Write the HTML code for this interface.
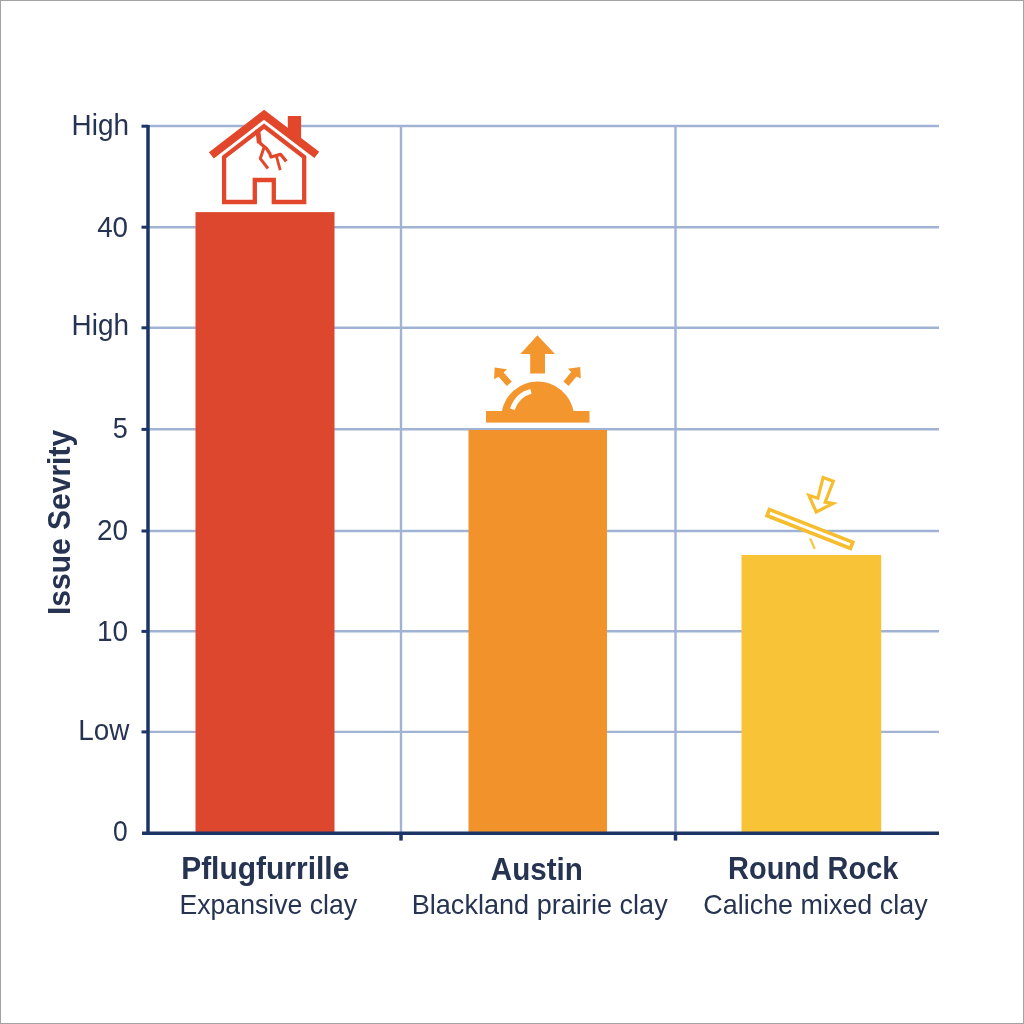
<!DOCTYPE html>
<html><head><meta charset="utf-8">
<style>
html,body{margin:0;padding:0;background:#fff;}
body{width:1024px;height:1024px;overflow:hidden;position:relative;}
svg{position:absolute;left:0;top:0;will-change:transform;}
text{font-family:"Liberation Sans",sans-serif;}
</style></head>
<body>
<svg width="1024" height="1024" viewBox="0 0 1024 1024">
  <rect x="0" y="0" width="1024" height="1024" fill="#fff"/>
  <rect x="0.5" y="0.5" width="1023" height="1023" fill="none" stroke="#a3a3a3" stroke-width="1"/>
  <!-- horizontal gridlines -->
  <g stroke="#a0b3d5" stroke-width="2.4" fill="none">
    <line x1="148" y1="126" x2="939" y2="126"/>
    <line x1="148" y1="227.2" x2="939" y2="227.2"/>
    <line x1="148" y1="327.7" x2="939" y2="327.7"/>
    <line x1="148" y1="429.3" x2="939" y2="429.3"/>
    <line x1="148" y1="531" x2="939" y2="531"/>
    <line x1="148" y1="631.3" x2="939" y2="631.3"/>
    <line x1="148" y1="731.9" x2="939" y2="731.9"/>
    <line x1="401" y1="126" x2="401" y2="833"/>
    <line x1="675.5" y1="126" x2="675.5" y2="833"/>
  </g>
  <!-- bars -->
  <rect x="195.5" y="212.1" width="139" height="621" fill="#dd472e"/>
  <rect x="468.5" y="430" width="138.5" height="403" fill="#f2922b"/>
  <rect x="741.5" y="555" width="139.7" height="278" fill="#f8c336"/>
  <!-- axes -->
  <g stroke="#1d3566" fill="none">
    <line x1="148" y1="125" x2="148" y2="835" stroke-width="3.5"/>
    <line x1="142" y1="833.2" x2="939" y2="833.2" stroke-width="3.5"/>
    <g stroke-width="3">
      <line x1="141.5" y1="126.2" x2="148" y2="126.2"/>
      <line x1="141.5" y1="227.2" x2="148" y2="227.2"/>
      <line x1="141.5" y1="327.8" x2="148" y2="327.8"/>
      <line x1="141.5" y1="429.4" x2="148" y2="429.4"/>
      <line x1="141.5" y1="531" x2="148" y2="531"/>
      <line x1="141.5" y1="631.4" x2="148" y2="631.4"/>
      <line x1="141.5" y1="731.9" x2="148" y2="731.9"/>
    </g>
    <line x1="401" y1="833" x2="401" y2="840.6" stroke-width="3.5"/>
    <line x1="675.5" y1="833" x2="675.5" y2="840.6" stroke-width="3.5"/>
  </g>
  <!-- y labels -->
  <g fill="#263452">
    <text transform="matrix(1.0330,0,0,1.0681,71.58,134.53)" font-size="27">High</text>
    <text transform="matrix(1.0281,0,0,1.0681,97.19,236.53)" font-size="27">40</text>
    <text transform="matrix(1.0330,0,0,1.0681,71.58,335.40)" font-size="27">High</text>
    <text transform="matrix(1.0000,0,0,1.0681,112.85,438.35)" font-size="27">5</text>
    <text transform="matrix(1.0342,0,0,1.0681,96.91,539.83)" font-size="27">20</text>
    <text transform="matrix(1.0370,0,0,1.0681,96.93,640.73)" font-size="27">10</text>
    <text transform="matrix(1.0328,0,0,1.0681,78.28,740.00)" font-size="27">Low</text>
    <text transform="matrix(0.9769,0,0,1.0681,113.02,841.38)" font-size="27">0</text>
  </g>
  <!-- y title -->
  <text transform="translate(70.44,615) rotate(-90) scale(1.0,1.05)" font-size="30" font-weight="bold" fill="#263452">Issue Sevrity</text>
  <!-- x labels -->
  <g fill="#263452">
    <text transform="matrix(1.0341,0,0,1.0802,181.13,879.05)" font-size="29" font-weight="bold">Pflugfurrille</text>
    <text transform="matrix(1.0211,0,0,1.0802,490.83,879.81)" font-size="29" font-weight="bold">Austin</text>
    <text transform="matrix(0.9973,0,0,1.0802,728.11,879.41)" font-size="29" font-weight="bold">Round Rock</text>
    <text transform="matrix(1.0057,0,0,1.0357,179.44,913.97)" font-size="26.5">Expansive clay</text>
    <text transform="matrix(1.0226,0,0,1.0357,411.70,913.87)" font-size="26.5">Blackland prairie clay</text>
    <text transform="matrix(1.0159,0,0,1.0357,703.33,913.87)" font-size="26.5">Caliche mixed clay</text>
  </g>

  <!-- house icon -->
  <path d="M264.1,112 L213,151 L224,157 L224,202 L304.3,202 L304.3,157 L315,151 L301,140 L301,123 L280,123 Z" fill="#fff"/>
  <g fill="none" stroke="#e2472c" stroke-linejoin="miter">
    <path d="M287.8,115.9 L301.1,115.9 L301.1,141 L287.8,131 Z" fill="#e2472c" stroke="none"/>
    <polyline points="211.4,155.3 264.1,114.7 316.8,154.9" stroke-width="8"/>
    <path d="M264.1,126.3 L224.1,157 L224.1,202 L254.8,202 L254.8,180 L273.8,180 L273.8,202 L304.2,202 L304.2,157 Z" stroke-width="4.3"/>
    <g stroke-linecap="butt" stroke-linejoin="round">
      <polyline points="257.8,129.5 259.3,143.3" stroke-width="4.8"/>
      <polyline points="259.3,142.5 266.5,148.5 269.8,153.5 271,157 280.5,154.3 286.3,161.4" stroke-width="3.3"/>
      <polyline points="264,147.6 260.3,158.6 268,168.5" stroke-width="3"/>
      <polyline points="276.3,155.7 280.2,170.2" stroke-width="2.8"/>
    </g>
  </g>

  <!-- dome icon -->
  <g fill="#f3962e">
    <rect x="486" y="411" width="103.5" height="11.6"/>
    <path d="M501.7,412 A36.5,36.5 0 0 1 573.7,412 Z"/>
    <path d="M520.4,354 L537.4,335.3 L555,354 L545,354 L545,373.6 L530.2,373.6 L530.2,354 Z"/>
    <path d="M494.6,367.5 L507,369.3 L503.6,372.5 L511.8,381.6 L506.8,386 L498.6,376.8 L494.1,379.2 Z"/>
    <path d="M580.2,366.9 L567.9,368.7 L571.2,372 L563.4,381.6 L568.6,386 L576.5,376.4 L580.8,378.6 Z"/>
  </g>
  <path d="M512.4,409.2 A26,28.5 0 0 1 530.9,391.4" fill="none" stroke="#fff" stroke-width="4.8"/>

  <!-- rock/lever icon -->
  <g fill="none" stroke="#f6bd2e" stroke-linejoin="miter">
    <rect x="-44.8" y="-3.3" width="89.6" height="6.6" fill="#fff" stroke-width="3.6" transform="translate(809.9,528.9) rotate(21.4)"/>
    <path d="M823.1,477.6 L833.3,481.3 L825.2,502.2 L833,503.5 L816.2,512 L808.9,495.3 L817.8,498.3 Z" stroke-width="3.2"/>
  </g>
  <path d="M808.8,538.2 L811.6,538.8 L815.8,548.6 L813.6,549.2 Z" fill="#f7c94a"/>
</svg>
</body></html>
